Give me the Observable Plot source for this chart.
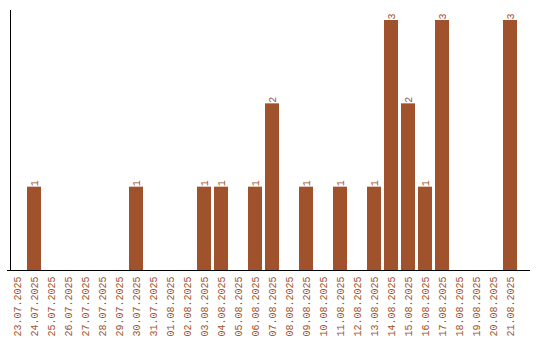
<!DOCTYPE html>
<html><head><meta charset="utf-8">
<script src="https://cdn.jsdelivr.net/npm/d3@7"></script>
<script src="https://cdn.jsdelivr.net/npm/@observablehq/plot@0.6"></script>
<style>body{margin:0;background:#fff}</style>
</head><body><div id="chart"></div>
<script>
const dates = ["23.07.2025","24.07.2025","25.07.2025","26.07.2025","27.07.2025","28.07.2025","29.07.2025","30.07.2025","31.07.2025","01.08.2025","02.08.2025","03.08.2025","04.08.2025","05.08.2025","06.08.2025","07.08.2025","08.08.2025","09.08.2025","10.08.2025","11.08.2025","12.08.2025","13.08.2025","14.08.2025","15.08.2025","16.08.2025","17.08.2025","18.08.2025","19.08.2025","20.08.2025","21.08.2025"];
const counts = [0,1,0,0,0,0,0,1,0,0,0,1,1,0,1,2,0,1,0,1,0,1,3,2,1,3,0,0,0,3];
const data = dates.map((d, i) => ({date: d, count: counts[i]}));
const color = "#A0522D";
const yMax = 3.12;
const chart = Plot.plot({
  width: 540, height: 340,
  marginLeft: 8.5, marginRight: 21.5, marginTop: 10, marginBottom: 70,
  style: {fontFamily: "Liberation Mono", fontSize: "10px", background: "white"},
  x: {domain: dates, paddingInner: 3/17, paddingOuter: 1.5/17, label: null},
  y: {domain: [0, yMax], axis: null},
  marks: [
    Plot.barY(data, {x: "date", y: "count", fill: color}),
    Plot.text(data.filter(d => d.count > 0), {x: "date", y: "count", text: d => String(d.count), rotate: -90, textAnchor: "start", dy: -1, fill: color, fontSize: 10}),
    Plot.axisX({tickRotate: -90, tickSize: 0, tickPadding: 6, fill: color, label: null, fontSize: 10}),
    Plot.ruleY([0], {insetLeft: -1.5, insetRight: -11.5, stroke: "black"}),
    Plot.ruleX([dates[0]], {y1: 0, y2: yMax, dx: -7, stroke: "black"})
  ]
});
document.getElementById("chart").appendChild(chart);
</script>
</body></html>
